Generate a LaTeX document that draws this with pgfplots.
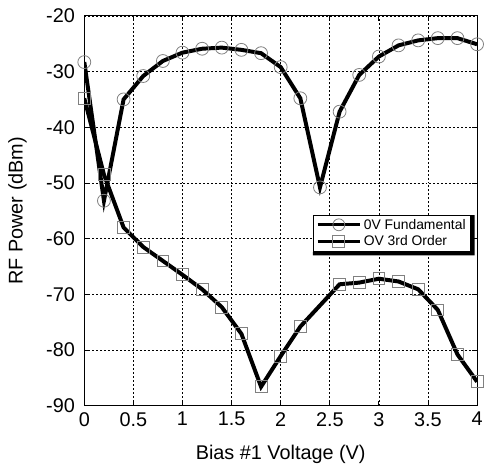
\documentclass[border=0pt]{standalone}
\usepackage{pgfplots}
\usepackage{pgfplotstable}
\pgfplotsset{compat=1.18}
\usepackage{fontspec}
\setmainfont{Liberation Sans}

\pgfplotstableread{
x y
0.0 -28.3
0.2 -53.2
0.4 -35.0
0.6 -30.8
0.8 -28.1
1.0 -26.6
1.2 -25.9
1.4 -25.7
1.6 -26.1
1.8 -26.7
2.0 -29.2
2.2 -34.8
2.4 -50.8
2.6 -37.2
2.8 -30.6
3.0 -27.3
3.2 -25.3
3.4 -24.4
3.6 -24.0
3.8 -24.0
4.0 -25.1
}\fund

\pgfplotstableread{
x y
0.0 -34.8
0.2 -48.5
0.4 -58.0
0.6 -61.5
0.8 -64.0
1.0 -66.5
1.2 -69.1
1.4 -72.3
1.6 -77.1
1.8 -86.6
2.0 -81.1
2.2 -75.8
2.6 -68.2
2.8 -67.9
3.0 -67.2
3.2 -67.7
3.4 -69.1
3.6 -72.8
3.8 -80.8
4.0 -85.7
}\third

\begin{document}
\begin{tikzpicture}
\begin{axis}[
  scale only axis,
  width=396pt, height=393pt,
  xmin=0, xmax=4, ymin=-90, ymax=-20,
  xtick={0,0.5,...,4}, ytick={-90,-80,...,-20},
  axis line style={black, line width=1.1pt},
  major tick length=5pt,
  tick style={black, line width=0.8pt},
  grid=major,
  major grid style={black, line width=0.7pt, dash pattern=on 2pt off 2pt},
  /pgf/number format/assume math mode=true,
  tick label style={font=\fontsize{20}{24}\selectfont},
  xticklabel style={yshift=-3pt},
  yticklabel style={xshift=-6pt},
  label style={font=\fontsize{20}{24}\selectfont},
  xlabel={Bias \#1 Voltage (V)},
  ylabel={RF Power (dBm)},
  xlabel style={at={(axis description cs:0.5,-0.126)}, anchor=center},
  ylabel style={at={(axis description cs:-0.1704,0.5)}, anchor=center},
  legend style={at={(0.581,0.49)}, anchor=north west, name=leg,
    font=\fontsize{14}{16}\selectfont, draw=black, line width=0.8pt,
    fill=white, inner xsep=3pt, inner ysep=2pt, row sep=1pt},
  legend cell align=left,
]
  \addplot[forget plot, only marks, mark=o, mark size=6.5pt, gray, mark options={line width=0.8pt}] table {\fund};
  \addplot[black, line width=4pt,
    legend image code/.code={
      \draw[black, line width=3.3pt] (0pt,0pt) -- (43pt,0pt);
      \draw[gray, line width=0.8pt] (21.5pt,0pt) circle (6pt);}] table {\fund};
  \addlegendentry{0V Fundamental}
  \addplot[forget plot, only marks, mark=square, mark size=6pt, gray, mark options={line width=0.8pt}] table {\third};
  \addplot[black, line width=4pt,
    legend image code/.code={
      \draw[black, line width=3.3pt] (0pt,0pt) -- (43pt,0pt);
      \draw[gray, line width=0.8pt] (15.5pt,-6pt) rectangle (27.5pt,6pt);}] table {\third};
  \addlegendentry{OV 3rd Order}
\end{axis}
\fill[black] ([xshift=0.4pt,yshift=-0.4pt]leg.south west) -- ++(0,-3.5pt) -| ([xshift=3.5pt,yshift=-0.4pt]leg.north east) -- ++(-3.5pt,0) |- cycle;
\pgfresetboundingbox
\path[use as bounding box] (-85pt,-65pt) rectangle (407pt,409pt);
\end{tikzpicture}
\end{document}
